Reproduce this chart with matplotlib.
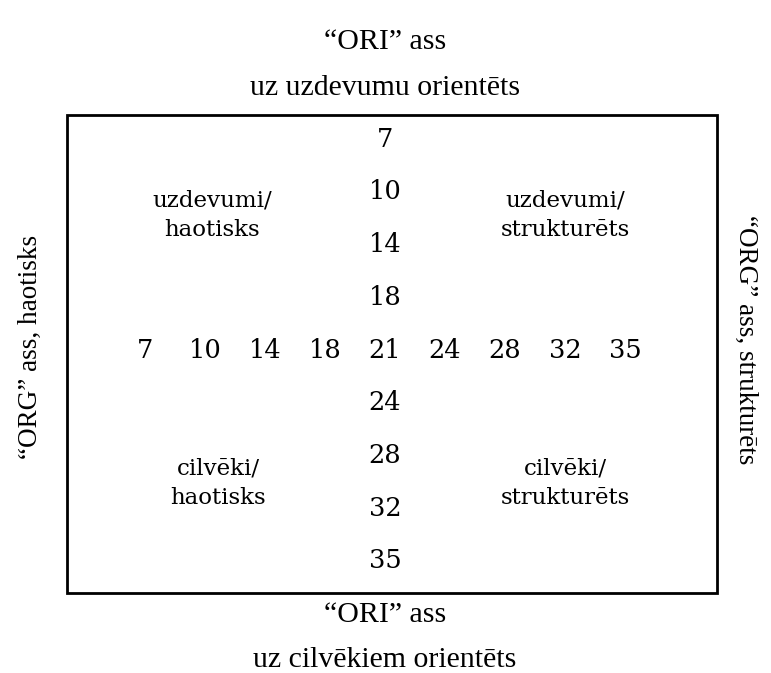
import matplotlib.pyplot as plt
from matplotlib.patches import Rectangle

# scale values shown along both axes
scale = [7, 10, 14, 18, 21, 24, 28, 32, 35]

quadrants = ["uzdevumi/\nhaotisks", "uzdevumi/\nstrukturēts",
             "cilvēki/\nhaotisks", "cilvēki/\nstrukturēts"]

top_labels = ["“ORI” ass", "uz uzdevumu orientēts"]
bottom_labels = ["“ORI” ass", "uz cilvēkiem orientēts"]
left_label = "“ORG” ass, haotisks"
right_label = "“ORG” ass, strukturēts"

outer_font = "Liberation Serif"
inner_font = "DejaVu Serif"

fig = plt.figure(figsize=(7.71, 6.73), dpi=100)
ax = fig.add_axes([0, 0, 1, 1])
ax.set_xlim(0, 771)
ax.set_ylim(673, 0)
ax.axis("off")

# frame
ax.add_patch(Rectangle((67, 115), 650, 478, fill=False, lw=2, ec="black"))

cx, cy = 385, 350
step_x, step_y = 60, 52.7
for i, v in enumerate(scale):
    ax.text(cx + (i - 4) * step_x, cy, str(v), ha="center", va="center",
            fontsize=18.5, family=inner_font)
    if i != 4:
        ax.text(cx, cy + (i - 4) * step_y, str(v), ha="center", va="center",
                fontsize=18.5, family=inner_font)

qpos = [(212, 215), (565, 215), (218, 483), (565, 483)]
for (qx, qy), lab in zip(qpos, quadrants):
    ax.text(qx, qy, lab, ha="center", va="center", fontsize=16.5,
            family=inner_font, linespacing=1.45)

ax.text(385, 42, top_labels[0], ha="center", va="center", fontsize=21.5, family=outer_font)
ax.text(385, 88, top_labels[1], ha="center", va="center", fontsize=21.5, family=outer_font)
ax.text(385, 615, bottom_labels[0], ha="center", va="center", fontsize=21.5, family=outer_font)
ax.text(385, 660, bottom_labels[1], ha="center", va="center", fontsize=21.5, family=outer_font)
ax.text(30, 347, left_label, ha="center", va="center", rotation=90,
        fontsize=19.5, family=outer_font)
ax.text(746, 340, right_label, ha="center", va="center", rotation=-90,
        fontsize=19.5, family=outer_font)

fig.savefig("out.png", dpi=100, facecolor="white")
